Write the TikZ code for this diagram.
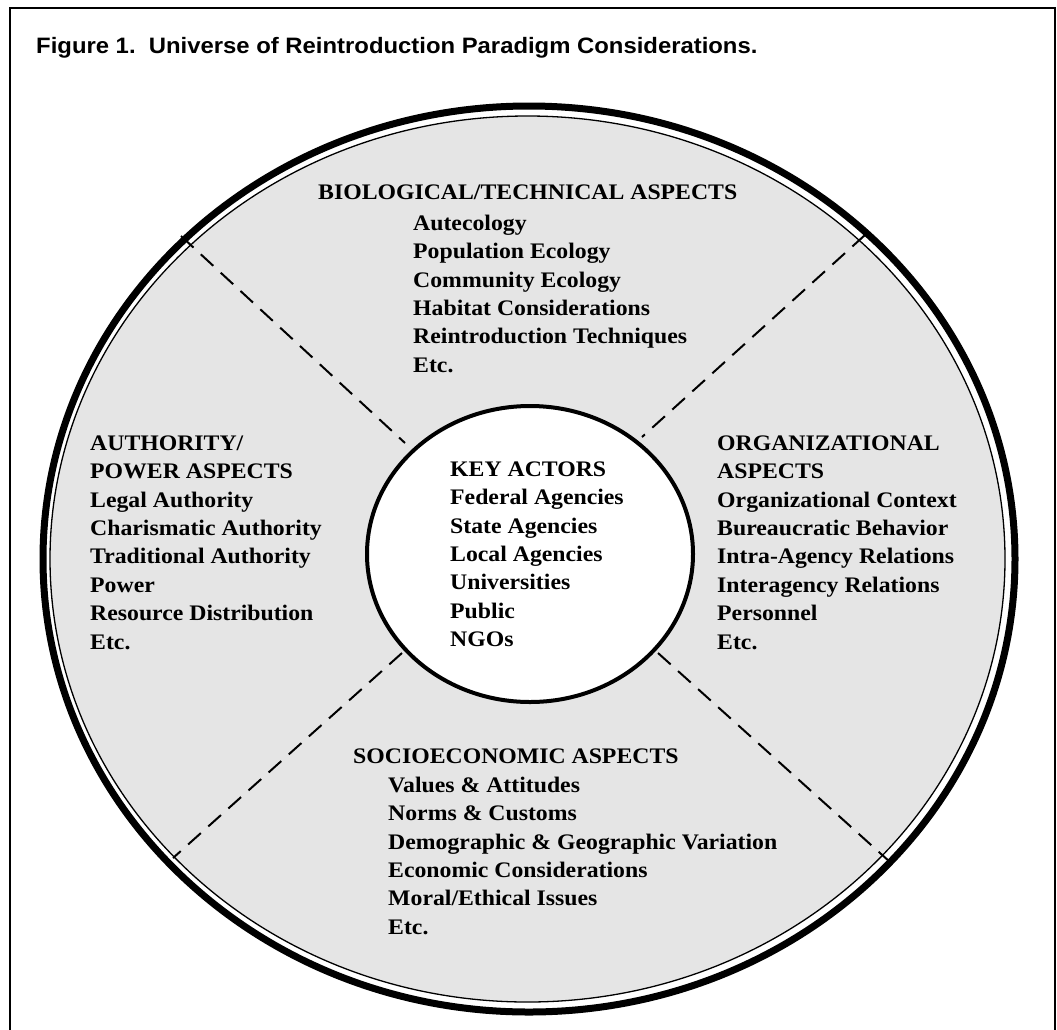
\documentclass[tikz,border=0pt]{standalone}
\usepackage{fontspec}
\setmainfont{Liberation Serif}
\newfontfamily\titlefont{Liberation Sans}
\definecolor{ringfill}{RGB}{229,229,229}
\begin{document}
\begin{tikzpicture}[x=1pt,y=-1pt,
  txt/.style={anchor=north west, inner sep=0pt, align=left, xscale=1.07,
    font=\bfseries\fontsize{22.2}{28.4}\selectfont},
  divider/.style={line width=2pt, dash pattern=on 17pt off 10pt},
  frame/.style={line width=2pt},
]
\useasboundingbox (0,0) rectangle (1057,1029);
\fill[white] (0,0) rectangle (1057,1029);
\draw[frame] (10,1045) -- (10,7.5) -- (1055,7.5) -- (1055,1045);

\node[anchor=base west, inner sep=0pt, xscale=1.07,
  font=\titlefont\bfseries\fontsize{22.3}{26}\selectfont] (title) at (36,53)
  {Figure 1.~~Universe of Reintroduction Paradigm Considerations.};

% rings
\draw[line width=7pt] (529,559) ellipse [x radius=486pt, y radius=453pt];
\filldraw[fill=ringfill, line width=1.3pt] (527.5,559) ellipse [x radius=477.5pt, y radius=443pt];

% dividers
\coordinate (ulo) at (181,236);
\coordinate (uli) at (405,443);
\coordinate (uro) at (865,235);
\coordinate (uri) at (642,437);
\coordinate (lli) at (402,653);
\coordinate (llo) at (173,858);
\coordinate (lri) at (658,653);
\coordinate (lro) at (890,862);
\draw[divider] (ulo) -- (uli);
\draw[divider] (uro) -- (uri);
\draw[divider] (lli) -- (llo);
\draw[divider] (lri) -- (lro);

% centre
\filldraw[fill=white, line width=4pt] (530,554) ellipse [x radius=163pt, y radius=148pt];

\node[txt] (actors) at (450,456) {\rule{0pt}{20pt}KEY ACTORS\\Federal Agencies\\State Agencies\\Local Agencies\\Universities\\Public\\NGOs};

\node[txt] (bioh) at (318,179) {\rule{0pt}{20pt}BIOLOGICAL/TECHNICAL ASPECTS};
\node[txt] (bio) at (413,210) {\rule{0pt}{20pt}Autecology\\Population Ecology\\Community Ecology\\Habitat Considerations\\Reintroduction Techniques\\Etc.};

\node[txt] (auth) at (90,430) {\rule{0pt}{20pt}AUTHORITY/\\POWER ASPECTS\\Legal Authority\\Charismatic Authority\\Traditional Authority\\Power\\Resource Distribution\\Etc.};

\node[txt] (org) at (717,430) {\rule{0pt}{20pt}ORGANIZATIONAL\\ASPECTS\\Organizational Context\\Bureaucratic Behavior\\Intra-Agency Relations\\Interagency Relations\\Personnel\\Etc.};

\node[txt] (socioh) at (353,743) {\rule{0pt}{20pt}SOCIOECONOMIC ASPECTS};
\node[txt] (socio) at (388,772) {\rule{0pt}{20pt}Values \& Attitudes\\Norms \& Customs\\Demographic \& Geographic Variation\\Economic Considerations\\Moral/Ethical Issues\\Etc.};
\end{tikzpicture}
\end{document}
